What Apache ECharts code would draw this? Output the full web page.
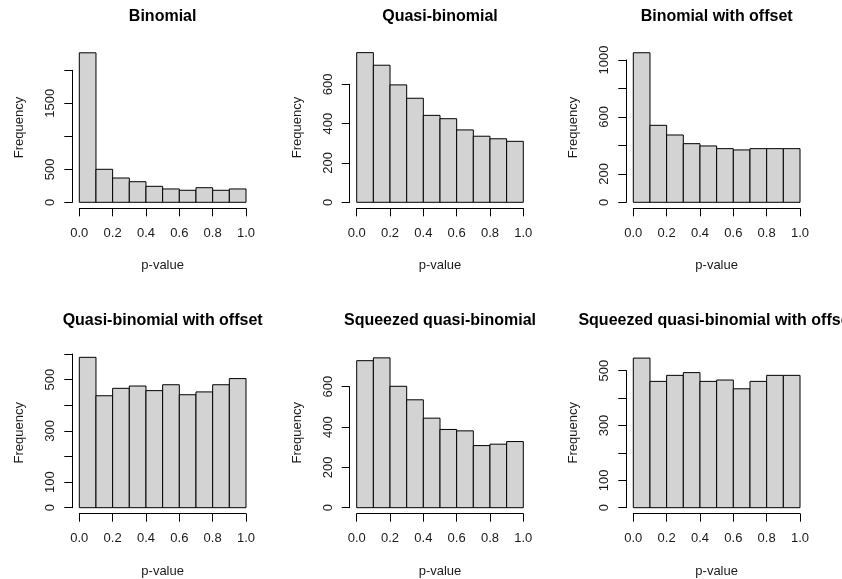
<!DOCTYPE html>
<html><head><meta charset="utf-8">
<script src="https://cdn.jsdelivr.net/npm/echarts@6/dist/echarts.min.js"></script>
<style>html,body{margin:0;padding:0;background:#fff}#c{width:842px;height:579px}</style>
</head><body><div id="c"></div>
<script>
// ---- data ----
const binEdges = [0, 0.1, 0.2, 0.3, 0.4, 0.5, 0.6, 0.7, 0.8, 0.9, 1.0];
const xTickValues = [0, 0.2, 0.4, 0.6, 0.8, 1.0];
const xTickLabels = ['0.0', '0.2', '0.4', '0.6', '0.8', '1.0'];
const titles = ['Binomial', 'Quasi-binomial', 'Binomial with offset',
  'Quasi-binomial with offset', 'Squeezed quasi-binomial', 'Squeezed quasi-binomial with offset'];
const binomial            = [2265, 500, 368, 312, 242, 202, 182, 221, 182, 202];
const quasiBinomial       = [761, 697, 597, 529, 442, 425, 368, 336, 323, 310];
const binomialOffset      = [1051, 541, 473, 412, 396, 377, 368, 377, 377, 377];
const quasiBinomialOffset = [587, 437, 466, 475, 457, 480, 441, 452, 480, 504];
const squeezedQuasi       = [729, 743, 602, 535, 444, 388, 381, 308, 315, 328];
const squeezedQuasiOffset = [546, 461, 483, 493, 461, 466, 434, 461, 483, 483];
const seriesValues = [binomial, quasiBinomial, binomialOffset, quasiBinomialOffset, squeezedQuasi, squeezedQuasiOffset];
const yTickMax = [2000, 600, 1000, 600, 600, 500];
const yTickStep = [500, 200, 200, 100, 200, 100];
const yTickLabels = [[0, 500, 1500], [0, 200, 400, 600], [0, 200, 600, 1000],
  [0, 100, 300, 500], [0, 200, 400, 600], [0, 100, 300, 500]];

// ---- layout (pixels) ----
const layout = [
  {left: 79.3, width: 166.7, top: 70.3, bottom0: 202.3},
  {left: 356.7, width: 166.6, top: 84.3, bottom0: 202.3},
  {left: 633.3, width: 166.7, top: 60.0, bottom0: 202.3},
  {left: 79.3, width: 166.7, top: 354.0, bottom0: 507.7},
  {left: 356.7, width: 166.6, top: 386.7, bottom0: 507.7},
  {left: 633.3, width: 166.7, top: 370.7, bottom0: 507.7}
];
const rowTitleY = [17.5, 322];
const rowFreqY = [127.5, 432.8];
const FONT = '"Liberation Sans", Arial, sans-serif';
const TXT = '#1a1a1a';

const grids = [], xAxes = [], yAxes = [], series = [], graphics = [], titleCmp = [];
layout.forEach((L, i) => {
  const row = i < 3 ? 0 : 1;
  grids.push({left: L.left, top: L.top, width: L.width, height: L.bottom0 - L.top});
  xAxes.push({
    gridIndex: i, type: 'value', min: 0, max: 1, interval: 0.2, offset: 6, position: 'bottom',
    name: 'p-value', nameLocation: 'middle', nameGap: 51,
    nameTextStyle: {fontFamily: FONT, fontSize: 13, color: TXT},
    axisLine: {show: true, onZero: false, lineStyle: {color: '#000', width: 1}},
    axisTick: {show: true, length: 8, lineStyle: {color: '#000', width: 1}},
    axisLabel: {show: true, margin: 18.7, fontFamily: FONT, fontSize: 13, color: TXT,
      formatter: v => { const k = xTickValues.findIndex(t => Math.abs(t - v) < 1e-9); return k >= 0 ? xTickLabels[k] : ''; }},
    splitLine: {show: false}
  });
  yAxes.push({
    gridIndex: i, type: 'value', min: 0, max: yTickMax[i], interval: yTickStep[i], offset: 7, position: 'left',
    axisLine: {show: true, onZero: false, lineStyle: {color: '#000', width: 1}},
    axisTick: {show: true, length: 8, lineStyle: {color: '#000', width: 1}},
    axisLabel: {show: true, rotate: 90, margin: 15, fontFamily: FONT, fontSize: 13, color: TXT,
      formatter: v => yTickLabels[i].indexOf(v) >= 0 ? String(v) : ''},
    splitLine: {show: false}
  });
  const data = seriesValues[i].map((c, k) => [binEdges[k], binEdges[k + 1], c]);
  series.push({
    type: 'custom', xAxisIndex: i, yAxisIndex: i, clip: false, data: data,
    encode: {x: [0, 1], y: 2},
    renderItem: (params, api) => {
      const p0 = api.coord([api.value(0), 0]);
      const p1 = api.coord([api.value(1), api.value(2)]);
      return {type: 'rect',
        shape: {x: p0[0], y: p1[1], width: p1[0] - p0[0], height: p0[1] - p1[1]},
        style: {fill: '#d3d3d3', stroke: '#000', lineWidth: 1}};
    }
  });
  titleCmp.push({
    text: titles[i], left: L.left + L.width / 2, top: rowTitleY[row] - 9, textAlign: 'center', padding: 0,
    textStyle: {fontFamily: FONT, fontSize: 16, fontWeight: 'bold', color: '#000'}
  });
  graphics.push({
    type: 'text', x: L.left - 7 - 52.7, y: rowFreqY[row], rotation: Math.PI / 2,
    style: {text: 'Frequency', fontFamily: FONT, fontSize: 13, fill: TXT, align: 'center', verticalAlign: 'middle'}
  });
});

const chart = echarts.init(document.getElementById('c'), null, {renderer: 'canvas'});
chart.setOption({
  animation: false, backgroundColor: '#fff',
  title: titleCmp, grid: grids, xAxis: xAxes, yAxis: yAxes, series: series, graphic: graphics
});
</script>
</body></html>
